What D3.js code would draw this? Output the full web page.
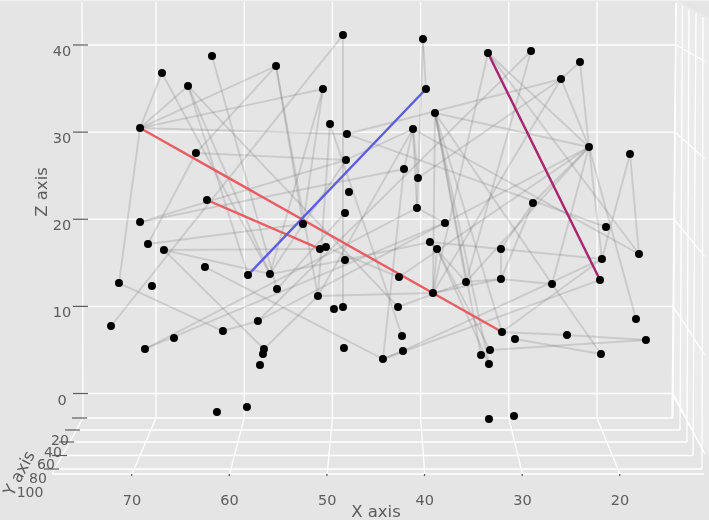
<!DOCTYPE html>
<html><head><meta charset="utf-8">
<script src="https://cdn.jsdelivr.net/npm/d3@7"></script>
<style>html,body{margin:0;padding:0;background:#e5e5e5;overflow:hidden}svg{display:block;filter:blur(0.45px)}text{font-family:"DejaVu Sans",sans-serif;fill:#5c5c5c}</style>
</head><body><svg id="c" width="709" height="520"></svg>
<script>
// Data values (x and z as seen against the back wall)
const pointX=[48.80,39.73,63.65,69.32,66.37,56.39,51.07,39.39,32.36,27.48,24.08,21.93,71.81,50.27,48.35,40.86,38.37,65.47,48.46,41.88,40.30,20.91,16.26,64.22,48.12,48.57,40.41,27.26,37.24,71.81,53.34,18.98,70.91,69.10,51.41,50.73,38.94,38.14,30.89,15.24,64.45,59.57,57.08,48.57,19.44,74.20,70.46,56.28,51.64,42.45,34.85,30.89,25.10,19.66,38.60,75.10,58.44,49.82,48.80,42.56,15.58,62.41,30.77,67.96,71.25,42.11,29.30,23.40,14.45,57.76,57.87,58.21,48.69,42.00,44.27,33.15,32.13,32.25,19.55,63.09,59.69,32.25,29.41];
const pointZ=[41.15,40.69,38.74,36.79,35.29,37.59,34.95,34.95,39.08,39.31,36.10,38.05,30.47,30.93,29.78,30.36,32.20,27.60,26.80,25.77,24.73,28.29,27.49,22.21,23.13,20.72,21.29,21.87,19.57,19.68,19.45,19.11,17.16,16.47,16.59,16.81,17.39,16.59,16.59,16.01,14.52,13.60,13.72,15.32,15.44,12.68,12.34,11.99,11.19,13.37,12.80,13.14,12.57,13.03,11.54,7.75,8.32,9.70,9.93,9.93,8.55,7.17,7.06,6.37,5.11,6.60,6.26,6.71,6.14,5.11,4.53,3.27,5.22,4.88,3.96,4.42,4.99,3.39,4.53,-2.12,-1.55,-2.93,-2.58];
const greyEdges=[[12,3],[12,4],[12,5],[12,6],[12,14],[12,45],[3,42],[4,41],[4,42],[4,59],[2,47],[17,32],[17,5],[17,18],[0,55],[0,58],[1,7],[1,26],[6,30],[6,42],[13,48],[13,65],[14,10],[14,31],[10,11],[10,21],[10,20],[10,54],[11,21],[8,21],[8,39],[8,54],[9,56],[9,50],[22,44],[22,39],[21,44],[21,60],[21,52],[21,56],[21,27],[21,16],[21,50],[21,49],[27,38],[27,51],[51,38],[51,50],[51,52],[51,54],[38,36],[38,44],[48,54],[36,50],[36,37],[16,75],[16,77],[16,52],[16,54],[16,62],[16,50],[15,19],[15,20],[15,26],[15,39],[15,48],[15,18],[26,28],[37,54],[37,76],[37,77],[76,68],[62,67],[67,68],[66,78],[52,78],[62,44],[74,53],[73,44],[73,74],[74,19],[40,74],[33,69],[33,34],[33,42],[32,30],[29,19],[29,18],[45,61],[61,56],[69,48],[64,26],[64,28],[5,30],[5,48],[18,42],[25,47],[43,42],[43,36],[59,50],[35,49]];
const colouredEdges=[[12,62,"#e85d63"],[23,34,"#e85d63"],[41,7,"#5c5ce0"],[8,53,"#a8256f"]];
const xTicks=[70,60,50,40,30,20];
const zTicks=[0,10,20,30,40];
const yTicks=[20,40,60,80,100];
const yTickLabels=["20","40","60","80","100"];

const svg=d3.select("#c");
const W=709,H=520;
const GRID="#ffffff", INK="#5c5c5c";
// scales on the back wall
const xBack=d3.scaleLinear().domain([70,20]).range([156,597]);
const zBack=d3.scaleLinear().domain([0,40]).range([393.5,45]);
// scale along the front of the floor
const xFront=d3.scaleLinear().domain([70,20]).range([132,620]);
// floor depth (y axis)
const yFloor=d3.scaleLinear().domain([20,40,60,80,100]).range([418,430,442,455.5,469]);
const yLeft=d3.scaleLinear().domain([20,40,60,80,100]).range([83,78,70,62,54]);
const yRight=d3.scaleLinear().domain([20,40,60,80,100]).range([673,680,687,693,702]);
const yRightTop=d3.scaleLinear().domain([20,40,60,80,100]).range([676,682.5,689,696,703]);
const yTickX=d3.scaleLinear().domain([20,40,60,80,100]).range([72,65,59,52,44]);
const yLabX=d3.scaleLinear().domain([20,40,60,80,100]).range([60,53,46,38,30]);
const yLabY=d3.scaleLinear().domain([20,40,60,80,100]).range([440,452,464,478,492]);
const wallSlope=d3.scaleLinear().domain([0,40]).range([1.84,0.57]);
const backRight=d3.scaleLinear().domain([0,40]).range([672,676]);
const FLOOR_BACK=418,FLOOR_FRONT=474,GW=1.3;

const line=(g,x1,y1,x2,y2,c,w)=>g.append("line").attr("x1",x1).attr("y1",y1).attr("x2",x2).attr("y2",y2).attr("stroke",c).attr("stroke-width",w);

svg.append("rect").attr("width",W).attr("height",H).attr("fill","#e5e5e5");
svg.append("path").attr("d",`M${backRight(40)},0L${W},18L${W},456L${backRight(0)},393.5L${yRight(20)},418Z`).attr("fill","#ebebeb");
svg.append("rect").attr("width",W).attr("height",1.2).attr("fill","#efefef");

const g=svg.append("g");
line(g,82,2,83,FLOOR_BACK,GRID,GW);
xTicks.forEach(t=>{
  line(g,xBack(t),2,xBack(t),FLOOR_BACK,GRID,GW);
  line(g,xBack(t),FLOOR_BACK,xFront(t),FLOOR_FRONT,GRID,GW);
});
line(g,backRight(40),3,backRight(0),FLOOR_BACK,GRID,GW);
zTicks.forEach(t=>{
  line(g,82,zBack(t),backRight(t),zBack(t),GRID,GW);
  const xr=705;
  line(g,backRight(t),zBack(t),xr,zBack(t)+(xr-backRight(t))*wallSlope(t),GRID,GW);
});
yTicks.forEach((t,i)=>{
  line(g,yLeft(t),yFloor(t),yRight(t),yFloor(t),GRID,GW);
  line(g,yRightTop(t),3+i*3.5,yRight(t),yFloor(t),GRID,GW);
});
line(g,52,FLOOR_FRONT,704,FLOOR_FRONT,GRID,GW);
line(g,83,FLOOR_BACK,52,FLOOR_FRONT,GRID,GW);
line(g,673,393.5,704,452,GRID,GW);

zTicks.forEach(t=>{
  line(svg,73,zBack(t),88,zBack(t),INK,1.2);
  svg.append("text").attr("x",62).attr("y",zBack(t)+11).attr("text-anchor","middle").attr("font-size",14.5).text(t);
});
yTicks.forEach((t,i)=>{
  line(svg,yTickX(t),yFloor(t),yTickX(t)+15,yFloor(t),INK,1.2);
  svg.append("text").attr("x",yLabX(t)).attr("y",yLabY(t)+5).attr("text-anchor","middle").attr("font-size",14).text(yTickLabels[i]);
});
xTicks.forEach(t=>{
  line(svg,xFront(t),FLOOR_FRONT,xFront(t)-0.5,FLOOR_FRONT+2,INK,1.2);
  svg.append("text").attr("x",xFront(t)).attr("y",504.5).attr("text-anchor","middle").attr("font-size",14.5).text(t);
});
svg.append("text").attr("x",376).attr("y",517).attr("text-anchor","middle").attr("font-size",16.5).text("X axis");
svg.append("text").attr("transform","translate(47,192) rotate(-90)").attr("text-anchor","middle").attr("font-size",16.5).text("Z axis");
svg.append("text").attr("transform","translate(24,476) rotate(-62)").attr("text-anchor","middle").attr("font-size",16.5).text("Y axis");

const px=i=>xBack(pointX[i]), pz=i=>zBack(pointZ[i]);
svg.append("g").selectAll("line").data(greyEdges).join("line")
  .attr("x1",d=>px(d[0])).attr("y1",d=>pz(d[0])).attr("x2",d=>px(d[1])).attr("y2",d=>pz(d[1]))
  .attr("stroke","#666").attr("stroke-opacity",0.21).attr("stroke-width",1.9);
svg.append("g").selectAll("line").data(colouredEdges).join("line")
  .attr("x1",d=>px(d[0])).attr("y1",d=>pz(d[0])).attr("x2",d=>px(d[1])).attr("y2",d=>pz(d[1]))
  .attr("stroke",d=>d[2]).attr("stroke-width",2.4);
svg.append("g").selectAll("circle").data(pointX).join("circle")
  .attr("cx",(d,i)=>px(i)).attr("cy",(d,i)=>pz(i)).attr("r",4).attr("fill","#000");
</script></body></html>
